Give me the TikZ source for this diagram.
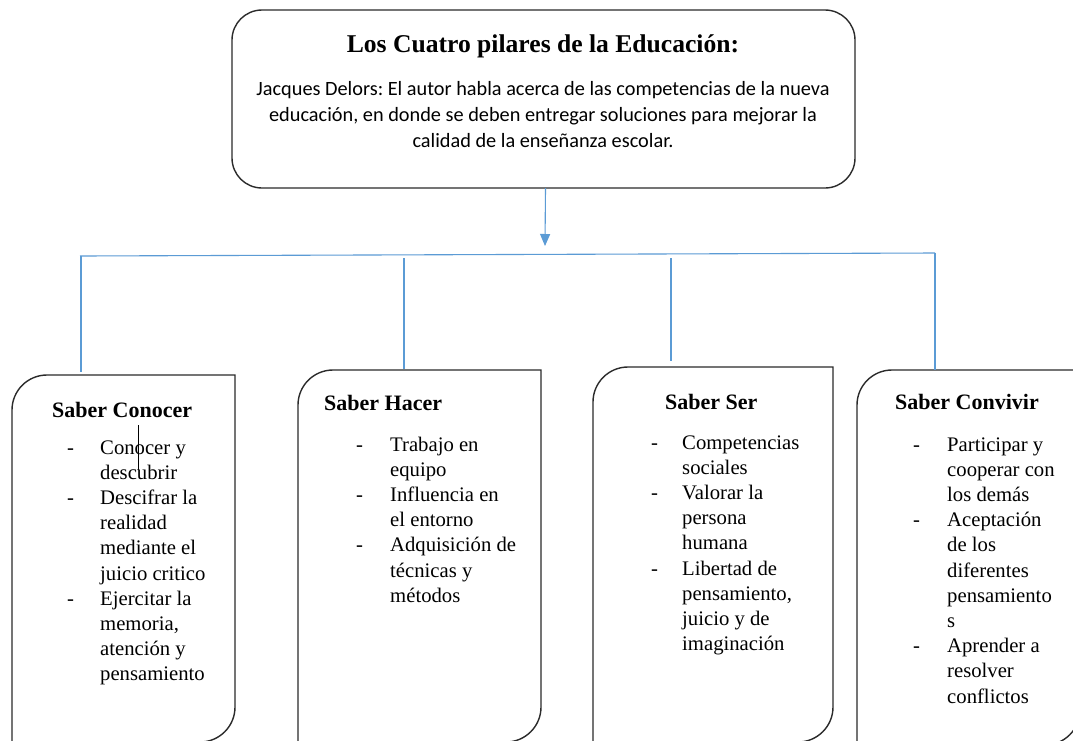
\documentclass[tikz,border=0pt]{standalone}
\usepackage{fontspec}
\setmainfont{Liberation Serif}
\newfontfamily\calibrifont{Carlito}
\usetikzlibrary{arrows.meta}
\frenchspacing
\definecolor{connblue}{HTML}{5B9BD5}
\definecolor{framegray}{HTML}{2B2B2B}
\newcommand\pillarframe[1]{%
  \draw[frame] (#1.south west) -- ([yshift=-35pt]#1.north west)
    arc[start angle=180,end angle=90,radius=35pt] -- (#1.north east)
    -- ([yshift=35pt]#1.south east)
    arc[start angle=0,end angle=-90,radius=35pt] -- cycle;}
\newcommand\pitems[2]{\begin{tabular}[t]{@{}p{#1}@{}l@{}}#2\end{tabular}}
\tikzset{
  frame/.style={draw=framegray, line width=1.4pt},
  conn/.style={draw=connblue, line width=1.1pt},
  pillar/.style={rectangle, inner sep=0pt, outer sep=0pt, anchor=north west},
  heading/.style={font=\fontsize{22}{26}\selectfont\bfseries, anchor=base west, inner sep=0pt},
  items/.style={font=\fontsize{20.7}{25.2}\selectfont, anchor=base west, inner sep=0pt},
}
\begin{document}
\begin{tikzpicture}[x=1pt,y=-1pt]
\useasboundingbox (0,0) rectangle (1073,740);
\clip (0,0) rectangle (1073,740);
\fill[white] (0,0) rectangle (1073,740);

% top box
\node[pillar, draw=framegray, line width=1.4pt, rounded corners=30pt,
      minimum width=623pt, minimum height=178pt] (top) at (232,10) {};
\node[font=\fontsize{25.6}{30}\selectfont\bfseries, anchor=base, inner sep=0pt] (title) at (543,52)
  {Los Cuatro pilares de la Educación:};
\node[font=\calibrifont\fontsize{20.3}{26.3}\selectfont, anchor=base, inner sep=0pt] (desc) at (543,95)
  {\begin{tabular}[t]{@{}c@{}}Jacques Delors: El autor habla acerca de las competencias de la nueva\\
   educación, en donde se deben entregar soluciones para mejorar la\\
   calidad de la enseñanza escolar.\end{tabular}};

% pillar boxes
\node[pillar, minimum width=223pt, minimum height=367pt] (b1) at (12,375) {};
\node[pillar, minimum width=243pt, minimum height=372pt] (b2) at (298,370) {};
\node[pillar, minimum width=240pt, minimum height=375pt] (b3) at (593,367) {};
\node[pillar, minimum width=223pt, minimum height=375pt] (b4) at (857,370) {};
\pillarframe{b1}
\pillarframe{b2}
\pillarframe{b3}
\pillarframe{b4}

% connectors
\coordinate (arrowstart) at ([xshift=2pt]top.south);
\coordinate (arrowend) at (545,246);
\draw[conn, -{Triangle[length=12pt,width=10pt]}] (arrowstart) -- (arrowend);
\coordinate (busL) at (80,256);
\coordinate (busR) at (935,253);
\draw[conn] (busL) -- (busR);
\coordinate (v1t) at (81,256);   \coordinate (v1b) at (81,372);
\coordinate (v2t) at (404,258);  \coordinate (v2b) at (404,369);
\coordinate (v3t) at (671,258);  \coordinate (v3b) at (671,361);
\coordinate (v4b) at (935,370);
\draw[conn] (v1t) -- (v1b);
\draw[conn] (v2t) -- (v2b);
\draw[conn] (v3t) -- (v3b);
\draw[conn] (busR) -- (v4b);

% headings
\node[heading] (h1) at (52,417) {Saber Conocer};
\node[heading] (h2) at (324,410) {Saber Hacer};
\node[heading] (h3) at (665,409) {Saber Ser};
\node[heading] (h4) at (895,409) {Saber Convivir};

% item lists
\node[items] (l1) at (67,454) {\pitems{33pt}{-&Conocer y\\&descubrir\\-&Descifrar la\\&realidad\\&mediante el\\&juicio critico\\-&Ejercitar la\\&memoria,\\&atención y\\&pensamiento}};
\node[items] (l2) at (356,451) {\pitems{34pt}{-&Trabajo en\\&equipo\\-&Influencia en\\&el entorno\\-&Adquisición de\\&técnicas y\\&métodos}};
\node[items] (l3) at (651,449) {\pitems{31pt}{-&Competencias\\&sociales\\-&Valorar la\\&persona\\&humana\\-&Libertad de\\&pensamiento,\\&juicio y de\\&imaginación}};
\node[items] (l4) at (913,451) {\pitems{34pt}{-&Participar y\\&cooperar con\\&los demás\\-&Aceptación\\&de los\\&diferentes\\&pensamiento\\&s\\-&Aprender a\\&resolver\\&conflictos}};

% text caret visible in the reference
\coordinate (caretT) at (138,425);
\coordinate (caretB) at (138,470);
\draw[black, line width=0.9pt] (caretT) -- (caretB);
\end{tikzpicture}
\end{document}
